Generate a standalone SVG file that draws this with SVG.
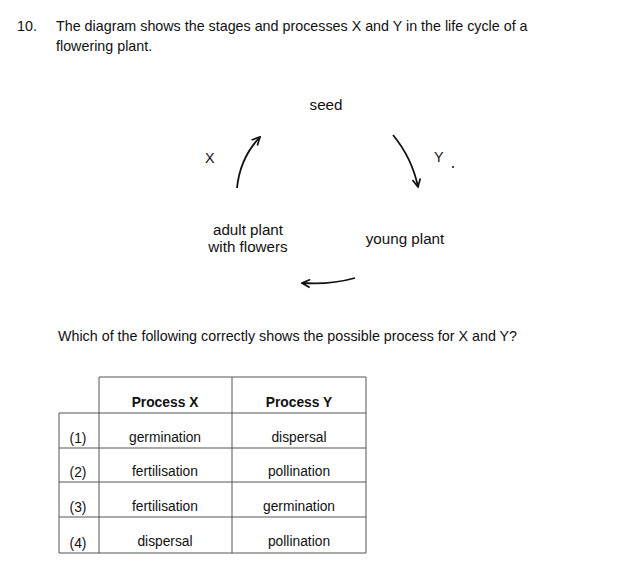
<svg xmlns="http://www.w3.org/2000/svg" width="617" height="577" viewBox="0 0 617 577">
<style>
text{font-family:"Liberation Sans",Arial,sans-serif;fill:#111;}
.q{font-size:14.3px;}
.l{font-size:15.2px;}
.t{font-size:13.8px;text-anchor:middle;}
.h{font-size:13.8px;font-weight:bold;text-anchor:middle;}
.c{stroke:#111;stroke-width:1.8;fill:none;}
.g{stroke:#555;stroke-width:1;fill:none;}
</style>
<defs>
<marker id="ah" viewBox="0 0 10 10" refX="9" refY="5" markerWidth="10" markerHeight="10" markerUnits="userSpaceOnUse" orient="auto">
<path d="M1,1 L9,5 L1,9" fill="none" stroke="#111" stroke-width="1.7"/>
</marker>
</defs>
<rect width="617" height="577" fill="#fff"/>
<text class="q" x="17" y="31">10.</text>
<text class="q" x="56" y="31">The diagram shows the stages and processes X and Y in the life cycle of a</text>
<text class="q" x="56" y="51">flowering plant.</text>
<g id="seed"><text class="l" x="326" y="110" text-anchor="middle">seed</text></g>
<g id="adult"><text class="l" x="248" y="235" text-anchor="middle">adult plant</text><text class="l" x="248" y="252" text-anchor="middle">with flowers</text></g>
<g id="young"><text class="l" x="405" y="244" text-anchor="middle">young plant</text></g>
<g id="labelX"><text class="q" x="205" y="163">X</text></g>
<g id="labelY"><text class="q" x="434" y="162">Y</text><circle cx="453" cy="167" r="1" fill="#111"/></g>
<g id="connectors">
<path class="c" d="M237,188 Q240,158 260,137" marker-end="url(#ah)"/>
<path class="c" d="M393,135 Q412,158 418,187" marker-end="url(#ah)"/>
<path class="c" d="M355,278 Q330,285 302,283" marker-end="url(#ah)"/>
</g>
<text class="q" x="58" y="341">Which of the following correctly shows the possible process for X and Y?</text>
<g id="table">
<path class="g" d="M99,377 H366 V553 H59 V413 H366 M99,377 V553 M232,377 V553 M59,448 H366 M59,482 H366 M59,517 H366"/>
<text class="h" x="165" y="407">Process X</text>
<text class="h" x="299" y="407">Process Y</text>
<text class="t" x="78" y="443">(1)</text>
<text class="t" x="165" y="442">germination</text>
<text class="t" x="299" y="442">dispersal</text>
<text class="t" x="78" y="477">(2)</text>
<text class="t" x="165" y="476">fertilisation</text>
<text class="t" x="299" y="476">pollination</text>
<text class="t" x="78" y="512">(3)</text>
<text class="t" x="165" y="511">fertilisation</text>
<text class="t" x="299" y="511">germination</text>
<text class="t" x="78" y="548">(4)</text>
<text class="t" x="165" y="546">dispersal</text>
<text class="t" x="299" y="546">pollination</text>
</g>
</svg>
